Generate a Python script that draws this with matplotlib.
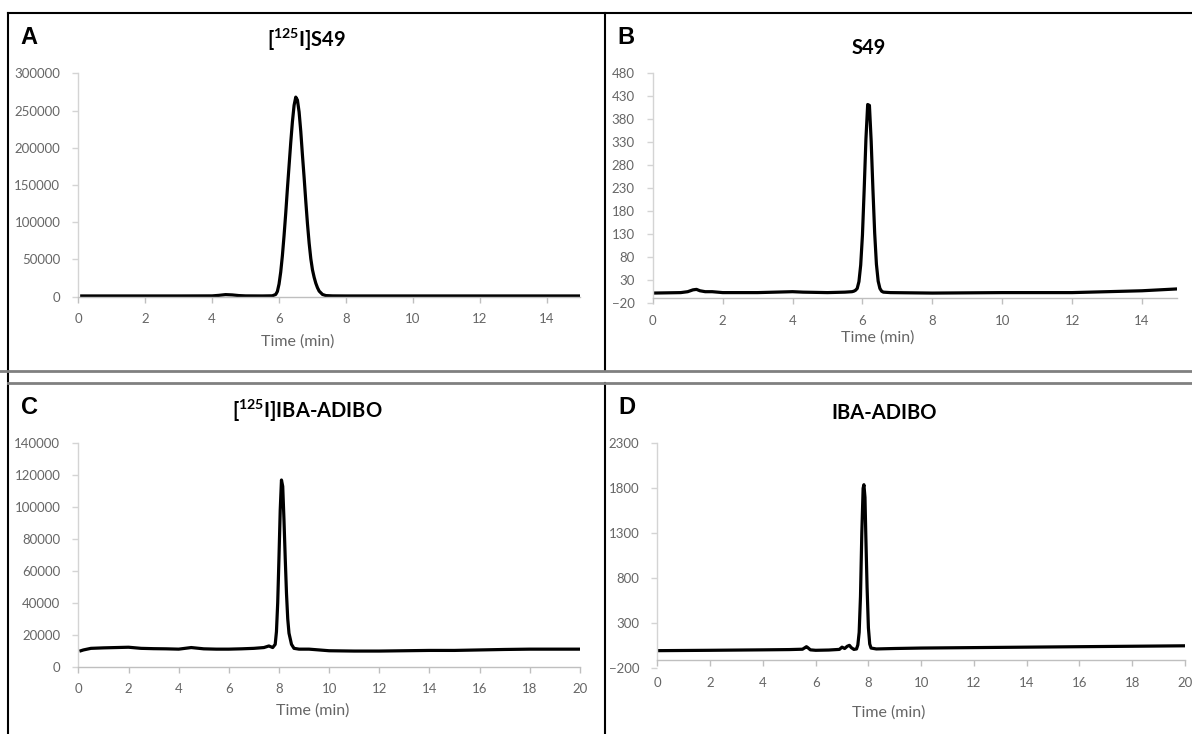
import matplotlib
matplotlib.use("Agg")
import matplotlib.pyplot as plt
from matplotlib.lines import Line2D

# ---------------- data ----------------
# Panel A: [125I]S49 radio-HPLC
a_time = [0.1, 1, 2, 3, 4, 4.2, 4.4, 4.6, 4.8, 5.0, 5.5, 5.8, 5.9, 5.95, 6.0, 6.05,
          6.1, 6.15, 6.2, 6.25, 6.3, 6.35, 6.4, 6.45, 6.5, 6.55, 6.6, 6.65, 6.7,
          6.75, 6.8, 6.85, 6.9, 6.95, 7.0, 7.05, 7.1, 7.15, 7.2, 7.3, 7.4, 7.6, 8,
          10, 12, 14, 15]
a_signal = [1000, 1000, 1000, 1000, 1100, 1800, 2800, 2400, 1500, 1100, 1000, 1200,
            3000, 7000, 17000, 33000, 55000, 82000, 112000, 145000, 176000, 207000,
            235000, 257000, 268000, 264000, 248000, 222000, 190000, 160000, 128000,
            98000, 72000, 51000, 36000, 26000, 18000, 12000, 7500, 3000, 1500, 1100,
            1000, 1000, 1000, 1000, 1000]

# Panel B: S49 UV
b_time = [0, 0.8, 1.0, 1.15, 1.25, 1.35, 1.5, 1.7, 2.0, 3.0, 3.5, 4.0, 4.3, 5.0,
          5.5, 5.7, 5.75, 5.8, 5.85, 5.9, 5.95, 6.0, 6.05, 6.1, 6.15, 6.2, 6.25,
          6.3, 6.35, 6.4, 6.45, 6.5, 6.55, 6.6, 6.8, 8, 10, 12, 12.5, 13, 13.5, 14,
          14.5, 15]
b_signal = [1, 2, 4, 8, 9, 6, 4, 4, 2, 2, 3, 4, 3, 2, 3, 4, 5, 7, 11, 26, 62, 127,
            227, 337, 412, 410, 332, 227, 132, 64, 27, 11, 5, 3, 2, 1, 2, 2, 3, 4,
            5, 6, 8, 10]

# Panel C: [125I]IBA-ADIBO radio-HPLC
c_time = [0.1, 0.2, 0.5, 1, 1.5, 2, 2.5, 3, 3.5, 4, 4.5, 5, 5.5, 6, 6.5, 7, 7.4,
          7.6, 7.75, 7.85, 7.9, 7.95, 8.0, 8.05, 8.1, 8.15, 8.2, 8.25, 8.3, 8.35,
          8.4, 8.5, 8.6, 8.8, 9.2, 9.6, 10, 11, 12, 13, 14, 15, 16, 17, 18, 19, 20]
c_signal = [10000, 10500, 11500, 11800, 12000, 12200, 11500, 11300, 11200, 11000,
            12000, 11200, 11000, 11000, 11200, 11500, 12000, 13000, 12000, 14000,
            22000, 40000, 68000, 98000, 117000, 113000, 92000, 68000, 46000, 30000,
            21000, 14000, 11500, 11000, 11000, 10500, 10000, 9800, 9800, 10000,
            10200, 10200, 10500, 10800, 11000, 11000, 11000]

# Panel D: IBA-ADIBO UV
d_time = [0, 2, 4, 5, 5.5, 5.6, 5.65, 5.7, 5.8, 6, 6.5, 6.9, 7.0, 7.1, 7.2, 7.28,
          7.35, 7.45, 7.55, 7.6, 7.65, 7.7, 7.75, 7.8, 7.83, 7.87, 7.9, 7.95, 8.0,
          8.05, 8.1, 8.3, 9, 10, 12, 14, 16, 18, 20]
d_signal = [-4, 0, 5, 8, 12, 30, 40, 30, 5, 0, 3, 10, 35, 20, 45, 55, 30, 10, 15,
            60, 200, 600, 1300, 1800, 1840, 1700, 1300, 700, 250, 70, 25, 15, 20,
            25, 30, 35, 40, 45, 50]

panel_letters = ["A", "B", "C", "D"]
panel_titles = [r"[$\mathregular{^{125}}$I]S49", "S49",
                r"[$\mathregular{^{125}}$I]IBA-ADIBO", "IBA-ADIBO"]
x_label = "Time (min)"
a_yticks = [0, 50000, 100000, 150000, 200000, 250000, 300000]
b_yticks = [-20, 30, 80, 130, 180, 230, 280, 330, 380, 430, 480]
c_yticks = [0, 20000, 40000, 60000, 80000, 100000, 120000, 140000]
d_yticks = [-200, 300, 800, 1300, 1800, 2300]
ab_xticks = [0, 2, 4, 6, 8, 10, 12, 14]
cd_xticks = [0, 2, 4, 6, 8, 10, 12, 14, 16, 18, 20]

# ---------------- figure ----------------
plt.rcParams["font.family"] = ["Lato", "DejaVu Sans"]
W, H = 1192, 734
fig = plt.figure(figsize=(W / 100, H / 100), dpi=100)
fig.patch.set_facecolor("white")


def px_axes(x0, x1, ytop, ybot):
    return fig.add_axes([x0 / W, 1 - ybot / H, (x1 - x0) / W, (ybot - ytop) / H])


TICK_COL = "#666666"
XAX_COL = "#bfbfbf"
YAX_COL = "#d4d4d4"


def style(ax, xlim, ylim, xticks, yticks, spine_y=None):
    ax.set_xlim(*xlim)
    ax.set_ylim(*ylim)
    ax.set_xticks(xticks)
    ax.set_yticks(yticks)
    for s in ["top", "right"]:
        ax.spines[s].set_visible(False)
    ax.spines["left"].set_color(YAX_COL)
    ax.spines["bottom"].set_color(XAX_COL)
    for s in ["left", "bottom"]:
        ax.spines[s].set_linewidth(1.0)
    if spine_y is not None:
        ax.spines["bottom"].set_position(("data", spine_y))
        ax.spines["left"].set_bounds(spine_y, ylim[1])
    ax.tick_params(axis="x", colors=XAX_COL, labelcolor=TICK_COL,
                   labelsize=9.5, length=4, width=1, direction="out", pad=8)
    ax.tick_params(axis="y", colors=YAX_COL, labelcolor=TICK_COL,
                   labelsize=9.5, length=4, width=1, direction="out", pad=9)
    ax.patch.set_alpha(0)


LW = 2.3

# Panel A
axA = px_axes(78.4, 580, 73.3, 296.7)
axA.plot(a_time, a_signal, color="black", lw=LW, solid_joinstyle="round")
style(axA, (0, 15), (0, 300000), ab_xticks, a_yticks)

# Panel B
axB = px_axes(652.8, 1176.9, 73.3, 302.7)
axB.plot(b_time, b_signal, color="black", lw=LW, solid_joinstyle="round")
style(axB, (0, 15), (-20, 480), ab_xticks, b_yticks, spine_y=-10)

# Panel C
axC = px_axes(78.4, 579.8, 443.3, 666.7)
axC.plot(c_time, c_signal, color="black", lw=LW, solid_joinstyle="round")
style(axC, (0, 20), (0, 140000), cd_xticks, c_yticks)

# Panel D
axD = px_axes(657.4, 1184.9, 443.3, 668.3)
axD.plot(d_time, d_signal, color="black", lw=LW, solid_joinstyle="round")
style(axD, (0, 20), (-200, 2300), cd_xticks, d_yticks, spine_y=-108)


def ftext(x, y, s, **kw):
    fig.text(x / W, 1 - y / H, s, ha="center", va="center", **kw)


# panel letters
for (x, y), s in zip([(29, 38), (626, 37), (30, 408), (627, 408)], panel_letters):
    ftext(x, y, s, fontsize=17, fontweight="bold", family=["Liberation Sans", "DejaVu Sans"])

# titles
for (x, y), s in zip([(307, 40), (869, 48), (307, 411), (884, 413)], panel_titles):
    ftext(x, y, s, fontsize=14.5, fontweight="bold", color="black")

# x labels
for (x, y) in [(298, 342), (878, 338), (313, 711), (889, 713)]:
    ftext(x, y, x_label, fontsize=11.5, color=TICK_COL)

# panel border lines
def fline(xs, ys, color="black", lw=1.5):
    fig.add_artist(Line2D([x / W for x in xs], [1 - y / H for y in ys],
                          color=color, lw=lw, transform=fig.transFigure))


fline([8, W], [12.5, 12.5])
fline([8, 8], [12.5, H])
fline([605, 605], [12.5, 370])
fline([605, 605], [383, H])
fline([0, W], [370.7, 370.7], color="#808080", lw=2)
fline([8, W], [382.7, 382.7], color="#808080", lw=2)

fig.savefig("out.png", dpi=100, facecolor="white")
